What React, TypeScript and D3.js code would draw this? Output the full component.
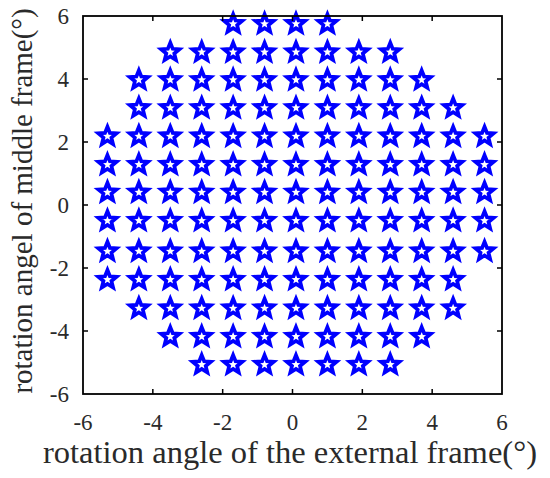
import React, { useRef, useEffect } from "react";
import * as d3 from "d3";

// star centres (degrees)
const colX = [-5.3, -4.4, -3.5, -2.6, -1.7, -0.8, 0.1, 1.0, 1.9, 2.8, 3.7, 4.6, 5.5];
const rowY = [5.75, 4.85, 3.97, 3.08, 2.18, 1.28, 0.4, -0.5, -1.47, -2.37, -3.28, -4.18, -5.07];
// first / last column index holding a star in each row
const rowFirst = [4, 2, 1, 1, 0, 0, 0, 0, 0, 0, 1, 2, 3];
const rowLast = [7, 9, 10, 11, 12, 12, 12, 12, 12, 11, 11, 10, 9];
const ticks = [-6, -4, -2, 0, 2, 4, 6];

const xLabel = "rotation angle of the external frame(°)";
const yLabel = "rotation angel of middle frame(°)";

const starPath = (R: number, r: number) => {
  const pts: string[] = [];
  for (let i = 0; i < 10; i++) {
    const rad = i % 2 === 0 ? R : r;
    const a = -Math.PI / 2 + (i * Math.PI) / 5;
    pts.push(`${(rad * Math.cos(a)).toFixed(2)},${(rad * Math.sin(a)).toFixed(2)}`);
  }
  return "M" + pts.join("L") + "Z";
};

const App = () => {
  const svgRef = useRef<SVGSVGElement>(null);

  useEffect(() => {
    const width = 550;
    const height = 478;
    const margin = { top: 16, right: 48, bottom: 84, left: 83 };

    const svg = d3
      .select(svgRef.current)
      .attr("width", width)
      .attr("height", height)
      .html("");

    svg.append("rect").attr("width", width).attr("height", height).attr("fill", "#fff");

    const x = d3.scaleLinear().domain([-6, 6]).range([margin.left, width - margin.right]);
    const y = d3.scaleLinear().domain([-6, 6]).range([height - margin.bottom, margin.top]);

    const font = "'Liberation Serif', 'Times New Roman', serif";

    // stars
    const points: [number, number][] = [];
    rowY.forEach((yy, i) => {
      for (let c = rowFirst[i]; c <= rowLast[i]; c++) points.push([colX[c], yy]);
    });
    const d = starPath(9.6, 4.2);
    svg
      .append("g")
      .selectAll("path")
      .data(points)
      .join("path")
      .attr("d", d)
      .attr("transform", (p) => `translate(${x(p[0])},${y(p[1])})`)
      .attr("fill", "#fff")
      .attr("stroke", "#0000ff")
      .attr("stroke-width", 3.7)
      .attr("stroke-linejoin", "miter");

    // box
    const x0 = x(-6), x1 = x(6), y0 = y(-6), y1 = y(6);
    svg
      .append("rect")
      .attr("x", x0)
      .attr("y", y1)
      .attr("width", x1 - x0)
      .attr("height", y0 - y1)
      .attr("fill", "none")
      .attr("stroke", "#000")
      .attr("stroke-width", 1.8);

    // inward ticks on all four sides
    const tl = 5;
    const tg = svg.append("g").attr("stroke", "#000").attr("stroke-width", 1.5);
    ticks.slice(1, -1).forEach((t) => {
      tg.append("line").attr("x1", x(t)).attr("x2", x(t)).attr("y1", y0).attr("y2", y0 - tl);
      tg.append("line").attr("x1", x(t)).attr("x2", x(t)).attr("y1", y1).attr("y2", y1 + tl);
      tg.append("line").attr("y1", y(t)).attr("y2", y(t)).attr("x1", x0).attr("x2", x0 + tl);
      tg.append("line").attr("y1", y(t)).attr("y2", y(t)).attr("x1", x1).attr("x2", x1 - tl);
    });

    // tick labels
    svg
      .append("g")
      .selectAll("text")
      .data(ticks)
      .join("text")
      .attr("x", (t) => x(t))
      .attr("y", 430)
      .attr("text-anchor", "middle")
      .attr("font-family", font)
      .attr("font-size", 23)
      .attr("fill", "#2a2a2a")
      .text((t) => String(t));

    svg
      .append("g")
      .selectAll("text")
      .data(ticks)
      .join("text")
      .attr("x", 69)
      .attr("y", (t) => y(t) + 8)
      .attr("text-anchor", "end")
      .attr("font-family", font)
      .attr("font-size", 23)
      .attr("fill", "#2a2a2a")
      .text((t) => String(t));

    // axis titles
    svg
      .append("text")
      .attr("x", 290)
      .attr("y", 463)
      .attr("text-anchor", "middle")
      .attr("font-family", font)
      .attr("font-size", 32.5)
      .attr("fill", "#2a2a2a")
      .text(xLabel);

    svg
      .append("text")
      .attr("transform", `translate(32,201) rotate(-90)`)
      .attr("text-anchor", "middle")
      .attr("font-family", font)
      .attr("font-size", 29)
      .attr("fill", "#2a2a2a")
      .text(yLabel);
  }, []);

  return (
    <svg
      ref={svgRef}
      style={{ position: "absolute", left: 0, top: 0, display: "block" }}
    />
  );
};

export default App;
